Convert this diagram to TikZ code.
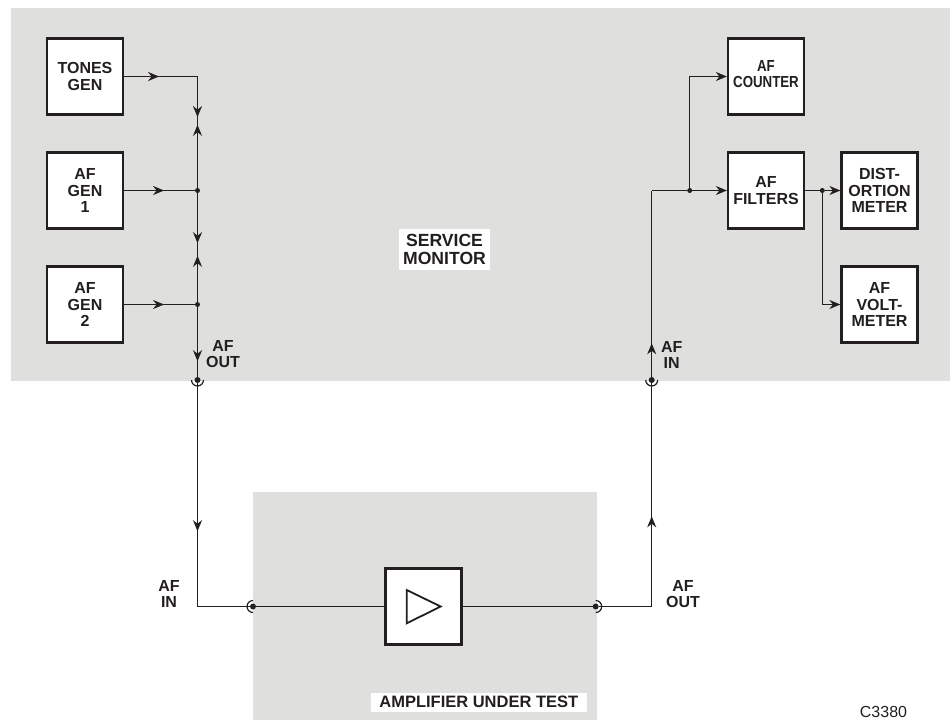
\documentclass[tikz,border=0pt]{standalone}
\usepackage{fontspec}
\setmainfont{Liberation Sans}
\usepackage{xcolor}
\usetikzlibrary{arrows.meta}
\usetikzlibrary{decorations.markings}
\definecolor{mygrey}{RGB}{223,223,221}
\definecolor{myink}{RGB}{35,31,32}
\tikzset{
  myhead/.tip={Stealth[length=11pt,width=9pt,inset=3.5pt]},
  tipat/.style={postaction={decorate,decoration={markings,mark=at position #1 with {\arrow{myhead}}}}},
  wire/.style={color=myink,line width=1.4},
  blockbox/.style={draw=myink,fill=white,line width=2.2,minimum size=76pt,inner sep=0pt,align=center,text=myink,font=\fontsize{16}{16.3}\selectfont\bfseries},
  caption/.style={align=center,text=myink,inner sep=0pt,font=\fontsize{16}{16.3}\selectfont\bfseries},
  whitecaption/.style={caption,fill=white},
  dot/.style={circle,fill=myink,inner sep=0pt,minimum size=5pt},
  sockdot/.style={circle,fill=myink,inner sep=0pt,minimum size=6pt},
}
\newcommand{\narrowed}[2]{\scalebox{0.83}[1]{\begin{tabular}{@{}c@{}}#1\\#2\end{tabular}}}

\begin{document}
\begin{tikzpicture}[x=1pt,y=-1pt]
\useasboundingbox (0,0) rectangle (950,720);
\fill[mygrey] (11,8) rectangle (950,381);
\fill[mygrey] (253,492) rectangle (597,720);

\node[blockbox] (tones) at (85,76.5) {TONES\\GEN};
\node[blockbox] (afgen1) at (85,190.5) {AF\\GEN\\1};
\node[blockbox] (afgen2) at (85,304.5) {AF\\GEN\\2};
\node[blockbox] (afcounter) at (766,76.5) {\narrowed{AF}{COUNTER}};
\node[blockbox] (affilters) at (766,190.5) {AF\\FILTERS};
\node[blockbox] (distortion) at (879.5,190.5) {DIST-\\ORTION\\METER};
\node[blockbox] (voltmeter) at (879.5,304.5) {AF\\VOLT-\\METER};
\node[blockbox] (amp) at (423.5,606.5) {};
\draw[color=myink,line width=1.8] (406.7,590) -- (440.7,606.5) -- (406.7,623.3) -- cycle;

\node[dot] (bus1) at (197.5,190.5) {};
\node[dot] (bus2) at (197.5,304.5) {};
\node[dot] (tapin) at (689.7,190.5) {};
\node[dot] (tapout) at (822.3,190.5) {};
\node[sockdot] (monout) at (197.5,380) {};
\node[sockdot] (monin) at (651.7,380) {};
\node[sockdot] (ampin) at (253,606.5) {};
\node[sockdot] (ampout) at (595.7,606.5) {};
\coordinate (buscorner) at (197.5,76.5);
\coordinate (incorner) at (651.7,190.5);

% sockets
\foreach \s in {monout,monin}{
  \draw[color=myink,line width=1.2] (\s) ++(6,0) arc(0:180:6);
}
\draw[color=myink,line width=1.2] (ampin) ++(0,-6) arc(270:90:6);
\draw[color=myink,line width=1.2] (ampout) ++(0,-6) arc(-90:90:6);

% left side
\draw[wire,tipat=35pt,tipat=114pt] (tones.east) -| (bus1);
\draw[wire,tipat=63pt] (bus1) -- (buscorner);
\draw[wire,tipat=40pt] (afgen1.east) -- (bus1);
\draw[wire,tipat=40pt] (afgen2.east) -- (bus2);
\draw[wire,tipat=50pt] (bus1) -- (bus2);
\draw[wire,tipat=46pt] (bus2) -- (bus1);
\draw[wire,tipat=54pt] (bus2) -- (monout);
\draw[wire,tipat=148pt] (monout) |- (ampin);

% amplifier
\draw[wire] (ampin) -- (amp.west);
\draw[wire] (amp.east) -- (ampout);
\draw[wire,tipat=143pt,tipat=316pt] (ampout) -| (incorner);

% right side
\draw[wire] (incorner) -- (tapin);
\draw[wire,-{myhead}] (tapin) -- (affilters.west);
\draw[wire,-{myhead}] (tapin) |- (afcounter.west);
\draw[wire] (affilters.east) -- (tapout);
\draw[wire,-{myhead}] (tapout) -- (distortion.west);
\draw[wire,-{myhead}] (tapout) |- (voltmeter.west);

% labels
\node[whitecaption,minimum width=91pt,minimum height=41pt,font=\fontsize{17.6}{18.2}\selectfont\bfseries] (monitorlabel) at (444.5,249.5) {SERVICE\\MONITOR};
\node[whitecaption,minimum width=215.7pt,minimum height=18.6pt,font=\fontsize{16.5}{16.5}\selectfont\bfseries] (amplabel) at (478.8,702.3) {AMPLIFIER UNDER TEST};
\node[caption] (afoutlabel) at (223,354) {AF\\OUT};
\node[caption] (afinlabel) at (671.7,355) {AF\\IN};
\node[caption] (ampinlabel) at (169,594) {AF\\IN};
\node[caption] (ampoutlabel) at (683,594) {AF\\OUT};
\node[text=myink,inner sep=0pt,anchor=base,font=\fontsize{16}{16}\selectfont] (drawingno) at (883.5,717) {C3380};
\end{tikzpicture}
\end{document}
